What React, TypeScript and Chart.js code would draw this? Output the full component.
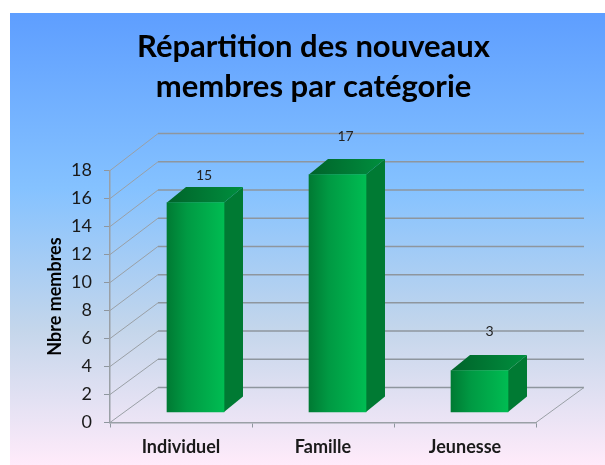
import React, { useEffect, useRef } from "react";
import { Chart, registerables } from "chart.js";

Chart.register(...registerables);

const categories = ["Individuel", "Famille", "Jeunesse"];
const members = [15, 17, 3];
const titleLines = ["Répartition des nouveaux", "membres par catégorie"];
const yAxisTitle = "Nbre membres";

const FONT = "Lato, 'Open Sans', sans-serif";
const WALL = { dx: 48, dy: -35, stretch: 1.008 };
const BAR_SHIFT = { dx: 14.5, dy: -10 };
const BAR_DEPTH = { dx: 19, dy: -15.5 };
const LABEL_NUDGE = [{ x: 8.5, y: -12 }, { x: 8, y: -23 }, { x: 10, y: -24 }];
const GRID = "#8e969e";

const scene = {
  id: "scene",
  beforeDraw(chart: any) {
    const { ctx, width, height } = chart;
    const g = ctx.createLinearGradient(0, 13, 0, height);
    g.addColorStop(0, "#5E9EFF");
    g.addColorStop(0.39, "#85C2FF");
    g.addColorStop(0.7, "#C4D6EB");
    g.addColorStop(1, "#FFEBFA");
    ctx.save();
    ctx.fillStyle = "#ffffff";
    ctx.fillRect(0, 0, width, height);
    ctx.fillStyle = g;
    ctx.fillRect(10, 13, width - 10, height - 13);
    ctx.restore();
  },
  beforeDatasetsDraw(chart: any) {
    const { ctx, chartArea: a, scales } = chart;
    const y = scales.y;
    ctx.save();
    y.ticks.forEach((t: any) => {
      const py = y.getPixelForValue(t.value);
      const backY = a.bottom + WALL.dy + (py - a.bottom) * WALL.stretch;
      ctx.lineWidth = 1;
      ctx.strokeStyle = "#9aa0a6";
      ctx.beginPath();
      ctx.moveTo(a.left, py);
      ctx.lineTo(a.left + WALL.dx, backY);
      ctx.stroke();
      ctx.lineWidth = 1.5;
      ctx.strokeStyle = GRID;
      ctx.beginPath();
      ctx.moveTo(a.left + WALL.dx, backY);
      ctx.lineTo(a.right + WALL.dx, backY);
      ctx.stroke();
    });
    ctx.lineWidth = 1;
    ctx.strokeStyle = "#9aa0a6";
    ctx.beginPath();
    ctx.moveTo(a.right, a.bottom);
    ctx.lineTo(a.right + WALL.dx, a.bottom + WALL.dy);
    ctx.stroke();
    ctx.restore();
  },
  beforeDatasetDraw(chart: any, args: any) {
    const { ctx } = chart;
    const meta = args.meta;
    ctx.save();
    ctx.translate(BAR_SHIFT.dx, BAR_SHIFT.dy);
    meta.data.forEach((bar: any) => {
      const l = bar.x - bar.width / 2;
      const r = bar.x + bar.width / 2;
      const top = bar.y;
      const base = bar.base;
      const { dx, dy } = BAR_DEPTH;
      ctx.fillStyle = "#007A33";
      ctx.beginPath();
      ctx.moveTo(r, top);
      ctx.lineTo(r + dx, top + dy);
      ctx.lineTo(r + dx, base + dy);
      ctx.lineTo(r, base);
      ctx.closePath();
      ctx.fill();
      const g = ctx.createLinearGradient(l, 0, r + dx, 0);
      g.addColorStop(0, "#00632A");
      g.addColorStop(1, "#008F3E");
      ctx.fillStyle = g;
      ctx.beginPath();
      ctx.moveTo(l, top);
      ctx.lineTo(l + dx, top + dy);
      ctx.lineTo(r + dx, top + dy);
      ctx.lineTo(r, top);
      ctx.closePath();
      ctx.fill();
    });
  },
  afterDatasetDraw(chart: any, args: any) {
    const { ctx } = chart;
    ctx.restore();
    ctx.save();
    ctx.fillStyle = "#222222";
    ctx.font = `14px ${FONT}`;
    ctx.textAlign = "center";
    ctx.textBaseline = "middle";
    args.meta.data.forEach((bar: any, i: number) => {
      ctx.fillText(
        String(members[i]),
        bar.x + BAR_SHIFT.dx + LABEL_NUDGE[i].x,
        bar.y + BAR_SHIFT.dy + BAR_DEPTH.dy + LABEL_NUDGE[i].y
      );
    });
    ctx.restore();
  },
};

export default function App() {
  const ref = useRef<HTMLCanvasElement>(null);
  useEffect(() => {
    const chart = new Chart(ref.current!, {
      type: "bar",
      plugins: [scene],
      data: {
        labels: categories,
        datasets: [
          {
            data: members,
            clip: false,
            barThickness: 57,
            yAxisID: "y",
            backgroundColor: (c: any) => {
              const sx = c.chart.scales?.x;
              const cx = sx && typeof c.dataIndex === "number" ? sx.getPixelForValue(c.dataIndex) : NaN;
              if (!Number.isFinite(cx)) return "#00A549";
              const g = c.chart.ctx.createLinearGradient(cx - 28.5, 0, cx + 28.5, 0);
              g.addColorStop(0, "#007A33");
              g.addColorStop(0.35, "#009A43");
              g.addColorStop(1, "#00BC52");
              return g;
            },
          } as any,
        ],
      },
      options: {
        responsive: false,
        animation: false,
        layout: { padding: { left: 22, right: 0, top: 0, bottom: 0 } },
        plugins: {
          legend: { display: false },
          tooltip: { enabled: false },
          title: {
            display: true,
            text: titleLines,
            color: "#000000",
            align: "center",
            fullSize: true,
            font: { family: FONT, size: 31, weight: "bold", lineHeight: 1.3 },
            padding: { top: 27, bottom: 63 },
          },
        },
        scales: {
          x: {
            afterFit: (s: any) => {
              s.height = 42.5;
            },
            grid: { drawOnChartArea: false, tickLength: 5, color: GRID, offset: true },
            border: { color: "#9aa0a6", width: 1.5 },
            ticks: {
              color: "#1a1a1a",
              padding: 9,
              maxRotation: 0,
              font: { family: FONT, size: 18, weight: "bold" },
            },
          },
          y: {
            min: 0,
            max: 18,
            afterFit: (s: any) => {
              s.width = 88;
            },
            grid: { drawOnChartArea: false, tickLength: 6, color: GRID },
            border: { color: "#9aa0a6", width: 1.5 },
            ticks: {
              stepSize: 2,
              color: "#1a1a1a",
              padding: 12,
              font: { family: FONT, size: 18 },
            },
            title: {
              display: true,
              text: yAxisTitle,
              color: "#000000",
              font: { family: FONT, size: 18, weight: "bold" },
              padding: { top: 22, bottom: 0 },
            },
          },
          spacer: {
            position: "right",
            min: 0,
            max: 18,
            afterFit: (s: any) => {
              s.width = 69;
            },
            grid: { display: false },
            border: { display: false },
            ticks: { display: false },
          },
        },
      },
    } as any);
    return () => chart.destroy();
  }, []);
  return (
    <canvas
      ref={ref}
      width={605}
      height={465}
      style={{ position: "fixed", left: 0, top: 0, width: 605, height: 465, display: "block" }}
    />
  );
}
